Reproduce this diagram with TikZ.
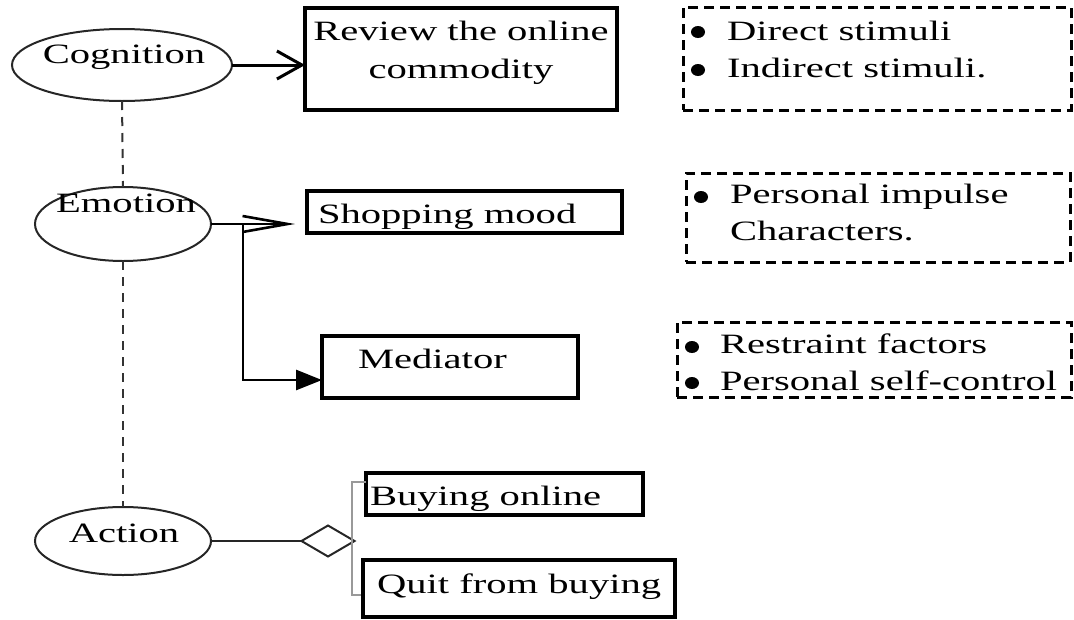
\documentclass[tikz,border=0pt]{standalone}
\usepackage{fontspec}
\setmainfont{Liberation Serif}[FakeStretch=1.45]
\usetikzlibrary{arrows.meta,shapes.geometric}

\begin{document}
\begin{tikzpicture}[x=1pt,y=-1pt,
  every node/.style={inner sep=0pt, outer sep=0pt},
  lbl/.style={font=\fontsize{28}{38}\selectfont, anchor=base},
  lblw/.style={lbl, anchor=base west},
  stage/.style={ellipse, draw=black!85, line width=2pt},
  box/.style={rectangle, draw, line width=3.2pt},
  notebox/.style={rectangle, draw, line width=3pt, dash pattern=on 10pt off 6pt},
  link/.style={draw=black!80, line width=2pt, dash pattern=on 9pt off 7pt},
  dot/.style={ellipse, fill, minimum width=14pt, minimum height=12pt}
]
\useasboundingbox (0,0) rectangle (1074,619);

% stages of the buying process
\node[stage, minimum width=220pt, minimum height=72pt] (cog) at (122,65) {};
\node[stage, minimum width=176pt, minimum height=74pt] (emo) at (123,224) {};
\node[stage, minimum width=176pt, minimum height=68pt] (act) at (123,541) {};
\node[lbl] (cogtxt) at (124,63) {Cognition};
\node[lbl] (emotxt) at (126,212) {Emotion};
\node[lbl] (acttxt) at (124,542) {Action};

% links between the stages
\draw[link] (cog.south) -- (emo.north);
\draw[link] (emo.south) -- (act.north);

% result boxes
\node[box, minimum width=312pt, minimum height=102pt] (rev) at (461,59) {};
\node[lbl] (revA) at (461,40) {Review the online};
\node[lbl] (revB) at (461,78) {commodity};

\node[box, minimum width=315pt, minimum height=42pt] (shop) at (464.5,212) {};
\node[lblw] (shoptxt) at (318,223) {Shopping mood};

\node[box, minimum width=256pt, minimum height=62pt] (med) at (450,367) {};
\node[lblw] (medtxt) at (358,368) {Mediator};

\node[box, minimum width=277pt, minimum height=42pt] (buy) at (504.5,494) {};
\node[lblw] (buytxt) at (370,505) {Buying online};

\node[box, minimum width=312pt, minimum height=57pt] (quit) at (519,588.5) {};
\node[lblw] (quittxt) at (377,593) {Quit from buying};

% connectors
\draw[line width=3pt, -{Straight Barb[length=25pt,width=28pt]}] (cog.east) -- (rev.west |- cog.east);
\coordinate (tipE) at ([xshift=-12pt]shop.west |- emo.east);
\draw[line width=2.6pt, -{Straight Barb[length=45pt,width=16pt]}] (emo.east) -- (tipE);
\coordinate (brk) at (243,224);
\draw[line width=2.6pt, -{Triangle[length=26pt,width=20pt]}] (brk) |- ([yshift=-13pt]med.west);

% decision between buying and quitting
\node[diamond, draw=black!85, line width=2pt, minimum width=53pt, minimum height=31pt] (dec) at (328,541) {};
\draw[black!85, line width=2pt] (act.east) -- (dec.west);
\coordinate (bt) at (352,482);
\coordinate (bb) at (352,595);
\draw[gray!80, line width=2pt] (buy.west |- bt) -- (bt) -- (bb) -- ([xshift=-2pt]quit.west |- bb);

% notes
\node[notebox, minimum width=388pt, minimum height=103pt] (n1) at (877,58.5) {};
\node[dot] (d1a) at (698,32) {};
\node[dot] (d1b) at (698,70) {};
\node[lblw] (t1a) at (727,40) {Direct stimuli};
\node[lblw] (t1b) at (727,77) {Indirect stimuli.};

\node[notebox, minimum width=384pt, minimum height=89pt] (n2) at (878,217.5) {};
\node[dot] (d2a) at (701,197) {};
\node[lblw] (t2a) at (730,203) {Personal impulse};
\node[lblw] (t2b) at (730,240) {Characters.};

\node[notebox, minimum width=394pt, minimum height=75pt] (n3) at (874,359.5) {};
\node[dot] (d3a) at (692,347) {};
\node[dot] (d3b) at (692,383) {};
\node[lblw] (t3a) at (720,353) {Restraint factors};
\node[lblw] (t3b) at (720,390) {Personal self-control};
\end{tikzpicture}
\end{document}
